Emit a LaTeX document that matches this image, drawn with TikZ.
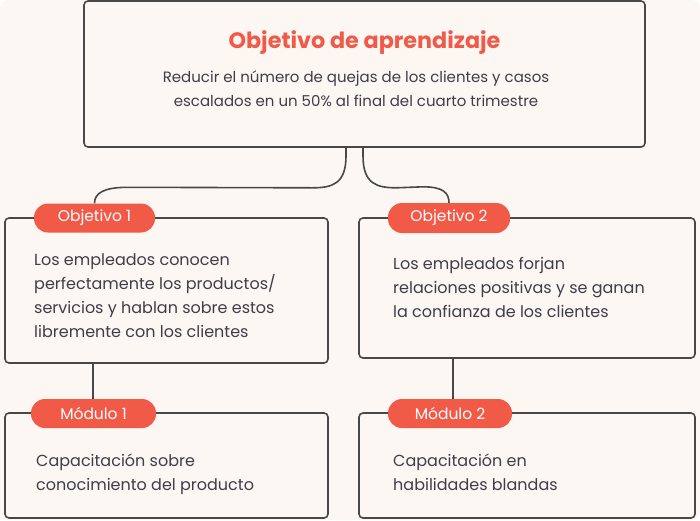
\documentclass[tikz,border=0pt]{standalone}
\usepackage{fontspec}
\setmainfont{Poppins}
\usetikzlibrary{calc}
\definecolor{bg}{HTML}{FCF7F3}
\definecolor{ln}{HTML}{484848}
\definecolor{accent}{HTML}{F25A48}
\definecolor{txt}{HTML}{3E3E48}
\tikzset{
  boxstyle/.style={draw=ln, line width=1.6pt, rounded corners=4pt, fill=bg, inner sep=0pt},
  pillstyle/.style={fill=accent, rounded corners=14pt, text=white, inner sep=0pt,
     font=\fontsize{15.5}{17}\selectfont},
  bodytext/.style={anchor=north west, align=left, inner sep=0pt, text=txt,
     font=\fontsize{16}{24}\selectfont},
  conn/.style={draw=ln, line width=1.6pt}
}
\begin{document}
\begin{tikzpicture}[x=1pt,y=-1pt]
\useasboundingbox (0,0) rectangle (700,520);
\fill[white] (0,0) rectangle (700,520);
\fill[bg, rounded corners=8pt] (0,0) rectangle (700,520);

% boxes
\node[boxstyle, minimum width=561pt, minimum height=146pt] (top) at (364.5,74) {};
\node[boxstyle, minimum width=323pt, minimum height=145pt] (o1) at (166.5,290.5) {};
\node[boxstyle, minimum width=336pt, minimum height=140pt] (o2) at (527,288) {};
\node[boxstyle, minimum width=323pt, minimum height=105pt] (m1) at (166.5,465.5) {};
\node[boxstyle, minimum width=336pt, minimum height=105pt] (m2) at (527,465.5) {};

% pills
\node[pillstyle, minimum width=121pt, minimum height=29pt] (p1) at (94.5,218) {Objetivo 1};
\node[pillstyle, minimum width=122pt, minimum height=30pt] (p2) at (449,218) {Objetivo 2};
\node[pillstyle, minimum width=125pt, minimum height=29pt] (q1) at (93.5,413.5) {Módulo 1};
\node[pillstyle, minimum width=124pt, minimum height=29pt] (q2) at (450,413.5) {Módulo 2};

% connectors
\draw[conn] ($(top.south)+(-18.5,0)$) -- ++(0,8) .. controls ++(0,28) and ++(20,0) .. ($(top.south)+(-52,40)$)
   -- ($(p1.north)+(33,-16)$) .. controls ++(-24,0) and ++(0,-10) .. (p1.north);
\draw[conn] ($(top.south)+(-1.5,0)$) -- ++(0,8) .. controls ++(0,28) and ++(-20,0) .. ($(top.south)+(32,40)$)
   -- ($(p2.north)+(-26,-16)$) .. controls ++(20,0) and ++(0,-10) .. (p2.north);
\draw[conn] (o1.south -| 93,0) -- (q1.north -| 93,0);
\draw[conn] (o2.south -| 453,0) -- (q2.north -| 453,0);

% texts
\node[text=accent, inner sep=0pt, font=\fontsize{22.3}{26}\selectfont\bfseries] (title) at (364.5,43) {Objetivo de aprendizaje};
\node[align=center, inner sep=0pt, text=txt, font=\fontsize{15}{24}\selectfont, anchor=north] (tb) at (356,71)
  {Reducir el número de quejas de los clientes y casos\\escalados en un 50\% al final del cuarto trimestre};

\node[bodytext] (t1) at (34,253) {Los empleados conocen\\perfectamente los productos/\\servicios y hablan sobre estos\\libremente con los clientes};
\node[bodytext] (t2) at (393,257) {Los empleados forjan\\relaciones positivas y se ganan\\la confianza de los clientes};
\node[bodytext] (t3) at (36,454) {Capacitación sobre\\conocimiento del producto};
\node[bodytext] (t4) at (393,454) {Capacitación en\\habilidades blandas};
\end{tikzpicture}
\end{document}
